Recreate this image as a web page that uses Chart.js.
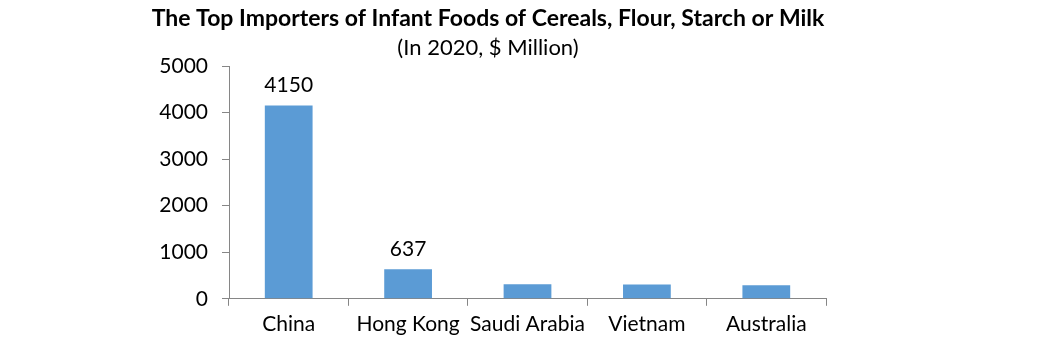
<!DOCTYPE html>
<html>
<head>
<meta charset="utf-8">
<script src="https://cdn.jsdelivr.net/npm/chart.js@4.4.1/dist/chart.umd.min.js"></script>
<style>
html,body{margin:0;padding:0;background:#fff;}
#wrap{width:1040px;height:349px;}
</style>
</head>
<body>
<div id="wrap"><canvas id="chart"></canvas></div>
<script>
const countries = ["China", "Hong Kong", "Saudi Arabia", "Vietnam", "Australia"];
const imports = [4150, 637, 310, 305, 290];
const labelled = [true, true, false, false, false];
const yTicks = [0, 1000, 2000, 3000, 4000, 5000];

const FONT = "Lato, 'Open Sans', sans-serif";
const AXIS = "#868686";

// value labels above the first two bars
const valueLabels = {
  id: "valueLabels",
  afterDatasetsDraw(chart){
    const ctx = chart.ctx;
    const meta = chart.getDatasetMeta(0);
    ctx.save();
    ctx.font = "21px " + FONT;
    ctx.fillStyle = "#000";
    ctx.textAlign = "center";
    ctx.textBaseline = "middle";
    meta.data.forEach((bar, i) => {
      if(!labelled[i]) return;
      ctx.fillText(String(imports[i]), bar.x, bar.y - 20);
    });
    ctx.restore();
  }
};

new Chart(document.getElementById("chart"), {
  type: "bar",
  data: {
    labels: countries,
    datasets: [{
      data: imports,
      backgroundColor: "#5B9BD5",
      barPercentage: 0.4,
      categoryPercentage: 1
    }]
  },
  options: {
    responsive: true,
    maintainAspectRatio: false,
    animation: false,
    layout: { padding: { left: 150, right: 214, top: 3, bottom: 6 } },
    plugins: {
      legend: { display: false },
      tooltip: { enabled: false },
      title: {
        display: true,
        text: "The Top Importers of Infant Foods of Cereals, Flour, Starch or Milk",
        color: "#000",
        font: { family: FONT, size: 23, weight: "bold" },
        padding: { top: 2, bottom: 2 }
      },
      subtitle: {
        display: true,
        text: "(In 2020, $ Million)",
        color: "#000",
        font: { family: FONT, size: 22 },
        padding: { top: 0, bottom: 5 }
      }
    },
    scales: {
      x: {
        grid: { display: true, drawOnChartArea: false, drawTicks: true, tickLength: 7, color: AXIS, offset: true },
        border: { color: AXIS },
        ticks: { color: "#000", font: { family: FONT, size: 21 }, padding: 6, maxRotation: 0 }
      },
      y: {
        min: 0,
        max: 5000,
        afterBuildTicks(scale){ scale.ticks = yTicks.map(v => ({ value: v })); },
        afterFit(scale){ scale.width = 79; },
        grid: { display: true, drawOnChartArea: false, drawTicks: true, tickLength: 7, color: AXIS },
        border: { color: AXIS },
        ticks: { color: "#000", font: { family: FONT, size: 21 }, padding: 14, callback: v => String(v) }
      }
    }
  },
  plugins: [valueLabels]
});
</script>
</body>
</html>
